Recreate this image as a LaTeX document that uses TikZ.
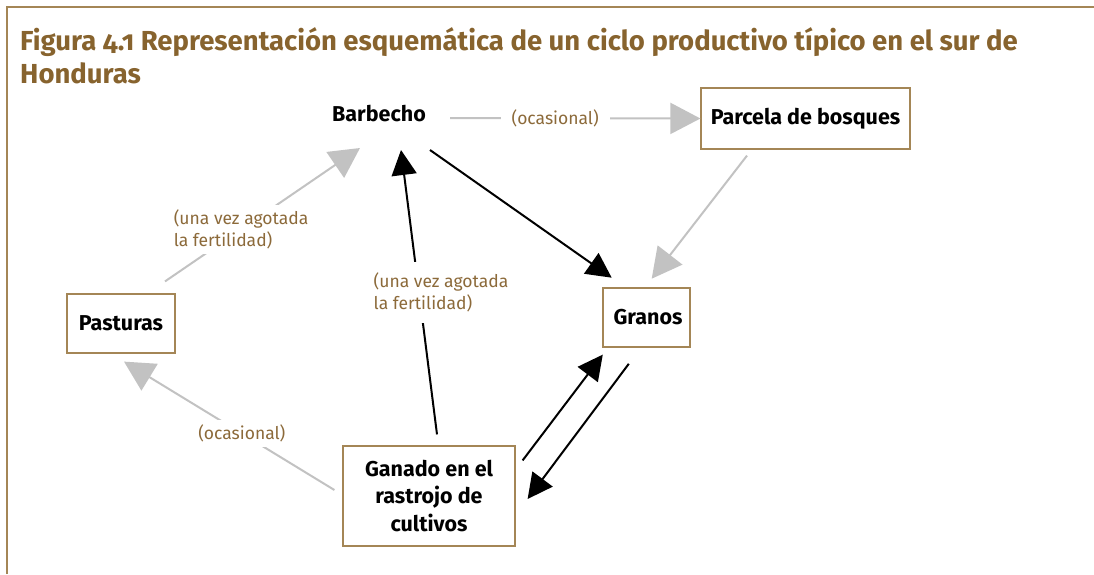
\documentclass[tikz,border=0pt]{standalone}
\usepackage{fontspec}
\setmainfont{Fira Sans}[Numbers=OldStyle]
\newfontfamily\titlefont{Fira Sans}[Numbers=OldStyle]
\usepackage{tikz}
\usetikzlibrary{arrows.meta}
\usetikzlibrary{calc}
\definecolor{ochre}{HTML}{8C6A3A}
\definecolor{titlebrown}{HTML}{87632E}
\definecolor{frameline}{HTML}{A48656}
\definecolor{lightline}{HTML}{C2C2C2}

\begin{document}
\begin{tikzpicture}[
		x=1pt,y=-1pt,
		box/.style={draw=frameline,line width=1.2pt,fill=white,rectangle,inner sep=0pt,font=\fontsize{21.5}{27.5}\selectfont\bfseries,align=center},
		note/.style={fill=white,text=ochre,inner xsep=8pt,inner ysep=5pt,font=\fontsize{17.5}{22}\selectfont,align=left},
		grey/.style={draw=lightline,line width=2pt,-{Triangle[length=30pt,width=31pt]}},
		dark/.style={draw=black,line width=2pt,-{Triangle[length=25pt,width=25pt]}},
		heading/.style={anchor=base west,inner sep=0pt,text=titlebrown,font=\titlefont\fontsize{27.5}{33}\selectfont\bfseries}
	]
		\useasboundingbox (0,0) rectangle (1094,574);
		\draw [frameline,line width=1.5pt] (7,574) -- (7,7) -- (1094,7);

		\node [heading] (title) at (20,50) {Figura 4.1 Representación esquemática de un ciclo productivo típico en el sur de};
		\node [heading] (title2) at (20,83.3) {Honduras};

		\node [anchor=base,inner sep=0pt,font=\fontsize{21.5}{24}\selectfont\bfseries] (barb) at (379,121.7) {Barbecho};
		\node [box,minimum width=209pt,minimum height=61pt] (parc) at (805.5,118.5) {Parcela de bosques};
		\node [box,minimum width=108pt,minimum height=59pt] (past) at (121,323.5) {Pasturas};
		\node [box,minimum width=87pt,minimum height=59pt] (gran) at (646.5,317.5) {\hspace{3pt}Granos};
		\node [box,minimum width=172pt,minimum height=100pt] (gana) at (429,496) {Ganado en el\\rastrojo de\\cultivos};

		\draw [grey] ($(barb.base)+(71,-3.7)$) -- (parc.west)
			node [note,pos=0.42,inner xsep=11pt] {(ocasional)};
		\draw [grey] ($(parc.south)+(-58.5,6)$) -- ($(gran.north)+(5.2,-8.7)$);
		\draw [dark] ($(barb.base)+(51,28.3)$) -- ($(gran.north)+(-34.8,-9.7)$);
		\draw [grey] ($(past.north)+(44,-12)$) -- ($(barb.base)+(-19,26.3)$)
			node [note,pos=0.39,inner xsep=3pt] {(una vez agotada\\la fertilidad)};
		\draw [dark] ($(gana.north)+(8,-11)$) -- ($(barb.base)+(22,28.3)$)
			node [note,pos=0.5,xshift=22pt,inner ysep=11pt] {(una vez agotada\\la fertilidad)};
		\draw [grey] ($(gana.west)+(-8,-6)$) -- ($(past.south)+(3,8)$)
			node [note,pos=0.44] {(ocasional)};
		\draw [dark] ($(gana.north east)+(7,15)$) -- ($(gran.south west)+(0.4,7)$);
		\draw [dark] ($(gran.south)+(-17.7,16.2)$) -- ($(gana.east)+(12,3)$);
	\end{tikzpicture}
\end{document}
